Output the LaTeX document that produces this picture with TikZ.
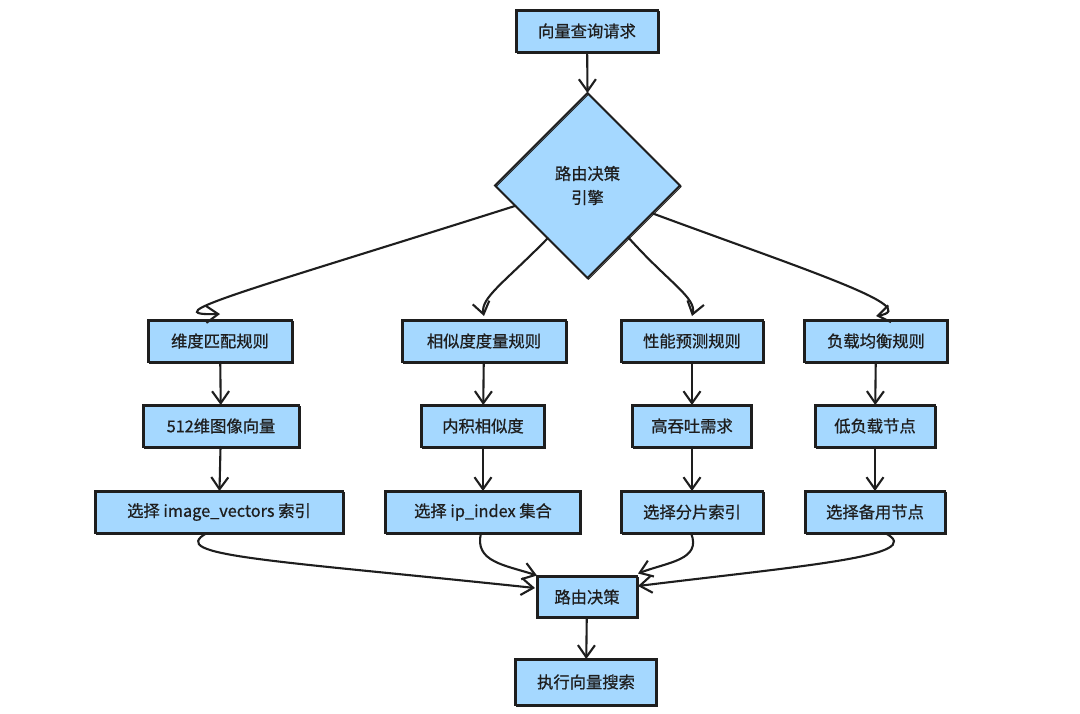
\documentclass[tikz,border=0pt]{standalone}
\usepackage{fontspec}
\setmainfont{Noto Sans CJK SC}[FakeBold=0.8]
\usetikzlibrary{arrows.meta,shapes.geometric,calc}
\definecolor{fillblue}{HTML}{A5D8FF}
\definecolor{ink}{HTML}{1E1E1E}
\begin{document}
\begin{tikzpicture}[x=1pt,y=-1pt,
  sketch/.style={postaction={draw=ink, line width=1pt, fill=none,
    transform canvas={shift={(1pt,-1.2pt)}}}},
  box/.style={draw=ink, fill=fillblue, line width=2.1pt, minimum height=42pt,
    inner sep=0pt, outer sep=0pt, text=ink, sketch,
    font=\fontsize{16.3}{20}\selectfont},
  decision/.style={diamond, shape aspect=1, draw=ink, fill=fillblue, line width=2.1pt,
    minimum width=185pt, minimum height=185pt, inner sep=0pt, outer sep=0pt, sketch,
    align=center, text=ink, font=\fontsize{16.3}{24}\selectfont},
  arr/.style={draw=ink, line width=2.1pt, line cap=round,
    -{Straight Barb[length=12pt,width=17pt,line width=2.1pt]}},
]
\useasboundingbox (0,0) rectangle (1080,713);
\fill[white] (0,0) rectangle (1080,713);

% top
\node[box, minimum width=142pt] (q) at (587,31) {向量查询请求};
\node[decision] (d) at (587.5,185.5) {路由决策\\引擎};

% row 1
\node[box, minimum width=144pt] (r1) at (220,341) {维度匹配规则};
\node[box, minimum width=164pt] (r2) at (484,341) {相似度度量规则};
\node[box, minimum width=142pt] (r3) at (692,341) {性能预测规则};
\node[box, minimum width=143pt] (r4) at (876,341) {负载均衡规则};

% row 2
\node[box, minimum width=156pt] (m1) at (221,426) {512维图像向量};
\node[box, minimum width=123pt] (m2) at (483,426) {内积相似度};
\node[box, minimum width=119pt] (m3) at (692,426) {高吞吐需求};
\node[box, minimum width=120pt] (m4) at (875,426) {低负载节点};

% row 3
\node[box, minimum width=248pt] (c1) at (219,512) {选择 image\_vectors 索引};
\node[box, minimum width=195pt] (c2) at (483,512) {选择 ip\_index 集合};
\node[box, minimum width=142pt] (c3) at (692,512) {选择分片索引};
\node[box, minimum width=140pt] (c4) at (875,512) {选择备用节点};

% bottom
\node[box, minimum width=100pt, minimum height=41pt] (rd) at (587,597) {路由决策};
\node[box, minimum width=141pt, minimum height=46pt] (ex) at (586,682) {执行向量搜索};

% connectors
\draw[arr] (q) -- (d.north);

\coordinate (s1) at ($(d.west)!0.22!(d.south)$);
\coordinate (s2) at ($(d.west)!0.57!(d.south)$);
\coordinate (s3) at ($(d.east)!0.56!(d.south)$);
\coordinate (s4) at ($(d.east)!0.30!(d.south)$);
\coordinate (e1) at ($(r1.north)+(0,-6)$);
\coordinate (e2) at ($(r2.north)+(0,-4)$);
\coordinate (e3) at ($(r3.north)+(0,-4)$);
\coordinate (e4) at ($(r4.north)+(0,-4)$);

\draw[arr] (s1) .. controls (250,290) and (150,316) .. (e1);
\draw[arr] (s2) .. controls (505,282) and (480,298) .. (e2);
\draw[arr] (s3) .. controls (668,282) and (697,298) .. (e3);
\draw[arr] (s4) .. controls (800,268) and (925,308) .. (e4);

\draw[arr] (r1) -- (m1);
\draw[arr] (r2) -- (m2);
\draw[arr] (r3) -- (m3);
\draw[arr] (r4) -- (m4);
\draw[arr] (m1) -- (c1);
\draw[arr] (m2) -- (c2);
\draw[arr] (m3) -- (c3);
\draw[arr] (m4) -- (c4);

\coordinate (b1) at ($(c1.south)+(-12,0)$);
\coordinate (b2) at ($(c2.south)+(-2,0)$);
\coordinate (b3) at ($(c3.south)+(-1,0)$);
\coordinate (b4) at ($(c4.south)+(10,0)$);
\coordinate (t1) at ($(rd.west)+(-2,-9)$);
\coordinate (t2) at ($(rd.north west)+(0,-1)$);
\coordinate (t3) at ($(rd.north east)+(1,-3)$);
\coordinate (t4) at ($(rd.east)+(1,-11)$);

\draw[arr] (b1) .. controls (165,556) and (270,560) .. (t1);
\draw[arr] (b2) .. controls (474,562) and (505,565) .. (t2);
\draw[arr] (b3) .. controls (702,560) and (668,562) .. (t3);
\draw[arr] (b4) .. controls (930,556) and (800,566) .. (t4);

\draw[arr] (rd) -- (ex);
\end{tikzpicture}
\end{document}
